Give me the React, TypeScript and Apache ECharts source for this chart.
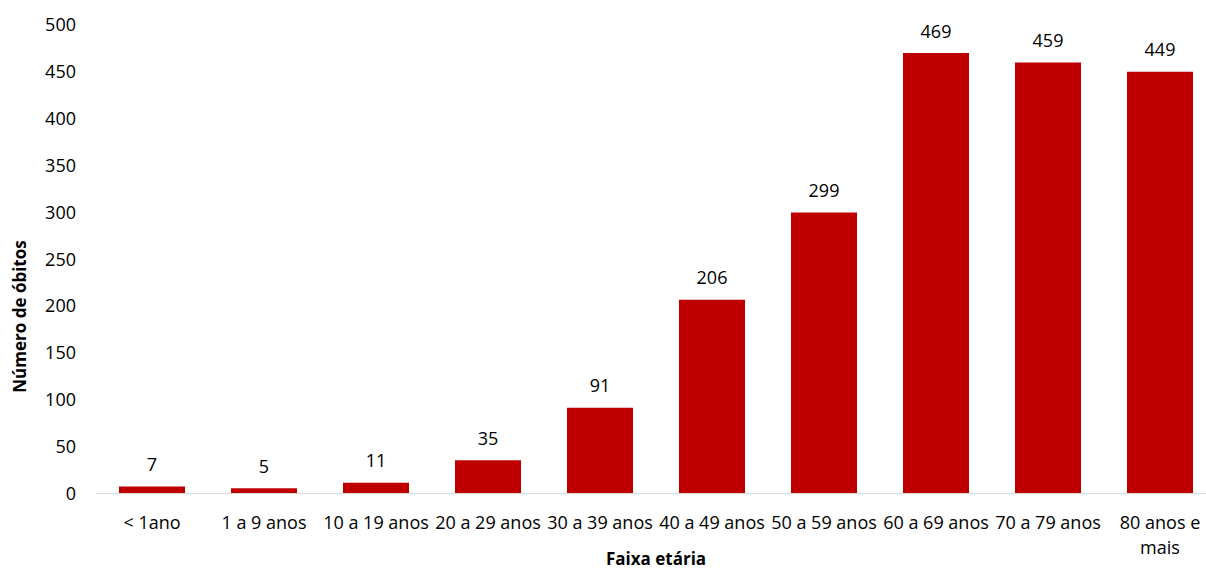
import React, { useEffect, useRef } from "react";
import * as echarts from "echarts";

const categories = [
  "< 1ano",
  "1 a 9 anos",
  "10 a 19 anos",
  "20 a 29 anos",
  "30 a 39 anos",
  "40 a 49 anos",
  "50 a 59 anos",
  "60 a 69 anos",
  "70 a 79 anos",
  "80 anos e mais",
];
const deaths = [7, 5, 11, 35, 91, 206, 299, 469, 459, 449];
const xTitle = "Faixa etária";
const yTitle = "Número de óbitos";

const FONT = "'Open Sans', sans-serif";

export default function App() {
  const ref = useRef<HTMLDivElement>(null);
  useEffect(() => {
    if (!ref.current) return;
    const chart = echarts.init(ref.current, null, { renderer: "svg" });
    chart.setOption({
      animation: false,
      backgroundColor: "#ffffff",
      textStyle: { fontFamily: FONT },
      grid: {
        left: 96,
        top: 24,
        width: 1120,
        height: 469,
        containLabel: false,
        outerBoundsMode: "none",
      },
      xAxis: {
        type: "category",
        data: categories,
        name: xTitle,
        nameLocation: "middle",
        nameGap: 57,
        nameMoveOverlap: false,
        nameTextStyle: { fontFamily: FONT, fontSize: 17, fontWeight: "bold", color: "#000" },
        axisLine: { show: true, lineStyle: { color: "#d9d9d9", width: 1 } },
        axisTick: { show: false },
        axisLabel: {
          interval: 0,
          margin: 16,
          fontFamily: FONT,
          fontSize: 18,
          lineHeight: 25,
          color: "#000",
          formatter: (v: string) => (v === "80 anos e mais" ? "80 anos e\nmais" : v),
        },
      },
      yAxis: {
        type: "value",
        min: 0,
        max: 500,
        interval: 50,
        name: yTitle,
        nameLocation: "middle",
        nameGap: 68,
        nameMoveOverlap: false,
        nameTextStyle: {
          fontFamily: FONT,
          fontSize: 17,
          fontWeight: "bold",
          color: "#000",
          padding: [0, 116, 0, 0],
        },
        axisLine: { show: false },
        axisTick: { show: false },
        splitLine: { show: false },
        axisLabel: { margin: 20, fontFamily: FONT, fontSize: 18, color: "#000" },
      },
      series: [
        {
          type: "bar",
          data: deaths,
          barWidth: 66,
          itemStyle: { color: "#C00000" },
          label: {
            show: true,
            position: "top",
            distance: 10,
            fontFamily: FONT,
            fontSize: 18,
            lineHeight: 25,
            color: "#000",
          },
        },
      ],
    });
    return () => chart.dispose();
  }, []);
  return (
    <div
      style={{
        position: "fixed",
        left: 0,
        top: 0,
        width: 1206,
        height: 575,
        overflow: "hidden",
        background: "#fff",
      }}
    >
      <div ref={ref} style={{ width: 1232, height: 575 }} />
    </div>
  );
}
